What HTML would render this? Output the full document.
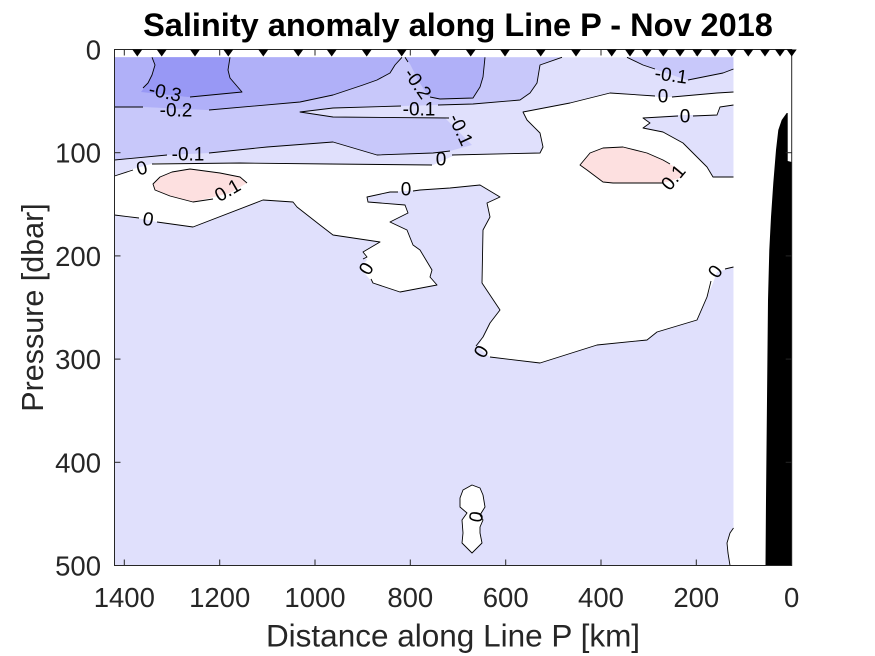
<!DOCTYPE html>
<html><head><meta charset="utf-8"><style>
html,body{margin:0;padding:0;background:#fff;}
svg{display:block;}
text{font-family:"Liberation Sans",Arial,sans-serif;}
</style></head><body>
<svg width="875" height="656" viewBox="0 0 875 656" xmlns="http://www.w3.org/2000/svg">
<rect width="875" height="656" fill="#fff"/>
<!-- data fills -->
<rect x="114.5" y="57.3" width="619" height="508.2" fill="#e0e0fc"/>
<path d="M114.5,57.3 L562,57.3 L540,65 L537,83 L530,93 L520,100 L473,104 L437,105 L403,106 L333,108 L300,112 L333,117 L445,118 L472,145 L450,151 L433,153 L377,155 L333,142 L267,147 L210,153 L167,155 L114.5,160 Z" fill="#c8c8fa"/>
<path d="M114.5,57.3 L402,57.3 L395,65 L390,73 L377,80 L363,85 L333,95 L300,102 L207,110 L143,107 L114.5,107 Z" fill="#b0b0f8"/>
<path d="M405,57.3 L485,57.3 L483,77 L480,87 L473,98 L440,99 L428,96 L418,80 L410,64 Z" fill="#b0b0f8"/>
<path d="M152,57.3 L230,57.3 L228,70 L230,78 L242,92 L188,97 L141,92 L148,83 L152,75 L155,65 Z" fill="#9898f5"/>
<path d="M627,57.3 L643,65 L663,72 L687,80 L723,73 L733.5,69 L733.5,57.3 Z" fill="#c8c8fa"/>
<path d="M114.5,176 L133,169 L155,163 L240,163 L330,164 L433,165 L455,155 L540,153 L543,147 L540,133 L527,120 L523,112 L570,103 L610,93 L660,97 L677,97 L717,93 L733.5,92 L733.5,105 L720,107 L717,115 L677,115 L643,118 L650,123 L643,128 L663,132 L683,143 L697,157 L707,167 L713,177 L733.5,177 L733.5,267 L717,272 L713,283 L707,297 L697,320 L657,332 L647,340 L597,345 L540,363 L490,357 L478,347 L483,337 L490,323 L500,310 L482,283 L483,230 L490,217 L487,203 L500,197 L480,185 L450,188 L420,190 L390,192 L367,197 L368,202 L405,205 L408,213 L390,222 L407,230 L413,245 L420,250 L432,270 L430,277 L437,285 L400,292 L373,283 L360,268 L367,260 L363,252 L380,242 L333,235 L320,225 L297,207 L293,202 L263,200 L193,227 L157,222 L137,218 L114.5,215 Z" fill="#fff"/>
<path d="M153,184 L160,177 L172,172 L190,169 L220,173 L240,177 L247,183 L230,193 L210,198 L193,202 L170,196 L155,190 Z" fill="#fde0e0"/>
<path d="M580,165 L590,153 L603,148 L623,147 L647,153 L663,160 L680,170 L683,177 L667,182 L653,183 L613,183 L603,182 L587,170 Z" fill="#fde0e0"/>
<path d="M472,485 L480,488 L483,495 L485,507 L480,515 L483,520 L480,527 L480,533 L482,543 L472,553 L462,543 L463,533 L462,520 L467,513 L460,507 L460,498 L463,490 Z" fill="#fff"/>
<path d="M733.5,528 L730,533 L727,543 L728,553 L730,565.5 L733.5,565.5 Z" fill="#fff"/>
<!-- contour lines -->
<g fill="none" stroke="#000" stroke-width="0.9" stroke-linejoin="round">
<polyline points="152,57.3 155,65 152,75 148,83 143,88"/>
<polyline points="230,57.3 228,70 230,78 242,92 190,97"/>
<polyline points="114.5,107 143,107"/>
<polyline points="209,110 300,102 333,95 363,85 377,80 390,73 395,65 402,57.3"/>
<polyline points="405,57.3 408,62"/>
<polyline points="430,97 440,99 473,98 480,87 483,77 485,57.3"/>
<polyline points="114.5,160 167,155"/>
<polyline points="209,153 267,147 333,142 377,155 433,153 450,151"/>
<polyline points="449,118 333,117 300,112 333,108 401,106"/>
<polyline points="438,105 473,104 520,100 530,93 537,83 540,65 562,57.3"/>
<polyline points="627,57.3 643,65 655,69"/>
<polyline points="688,80 723,73 733.5,69"/>
<polyline points="114.5,176 133,170"/>
<polyline points="152,164 240,163 330,164 432,165"/>
<polyline points="452,155 540,153 543,147 540,133 527,120 523,112 570,103 610,93 655,96"/>
<polyline points="672,97 717,93 733.5,92"/>
<polyline points="733.5,105 720,107 717,115 693,116"/>
<polyline points="678,116 643,118 650,123 643,128 663,132 683,143 697,157 707,167 713,177 733.5,177"/>
<polyline points="733.5,267 725,269"/>
<polyline points="711,281 707,297 697,320 657,332 647,340 597,345 540,363 490,357"/>
<polyline points="476,346 483,337 490,323 500,310 482,283 483,230 490,217 487,203 500,197 480,185 450,188 420,190 413,191"/>
<polyline points="398,192 390,192 367,197 368,202 405,205 408,213 390,222 407,230 413,245 420,250 432,270 430,277 437,285 400,292 373,283 371,279"/>
<polyline points="363,259 367,257 363,252 380,242 333,235 320,225 297,207 293,202 263,200 193,227 157,222"/>
<polyline points="139,218 114.5,215"/>
<polyline points="213,199 193,202 170,196 155,190 153,184 160,177 172,172 190,169 220,173 240,177 247,183"/>
<polyline points="663,183 653,183 613,183 603,182 587,170 580,165 590,153 603,148 623,147 647,153 663,160 670,164"/>
<path d="M472,485 L480,488 L483,495 L485,507 L480,515 L483,520 L480,527 L480,533 L482,543 L472,553 L462,543 L463,533 L462,520 L467,513 L460,507 L460,498 L463,490 Z"/>
<polyline points="733.5,528 730,533 727,543 728,553 730,565.5"/>
</g>
<!-- contour labels -->
<g font-size="19" fill="#000" text-anchor="middle" dominant-baseline="central">
<text transform="translate(165,93) rotate(12)">-0.3</text>
<text transform="translate(176,111)">-0.2</text>
<text transform="translate(188,155)">-0.1</text>
<text transform="translate(142,169) rotate(-15)">0</text>
<text transform="translate(228,191) rotate(-30)">0.1</text>
<text transform="translate(148,220) rotate(10)">0</text>
<text transform="translate(367,269) rotate(-60)">0</text>
<text transform="translate(417,84) rotate(55)">-0.2</text>
<text transform="translate(419,110)">-0.1</text>
<text transform="translate(460,130) rotate(65)">-0.1</text>
<text transform="translate(441,160)">0</text>
<text transform="translate(406,190)">0</text>
<text transform="translate(671,76) rotate(8)">-0.1</text>
<text transform="translate(663,97)">0</text>
<text transform="translate(685,117)">0</text>
<text transform="translate(674,178) rotate(-50)">0.1</text>
<text transform="translate(716,272) rotate(-55)">0</text>
<text transform="translate(482,352) rotate(-60)">0</text>
<text transform="translate(477,517) rotate(-80)">0</text>
</g>
<!-- bathymetry -->
<path d="M786.7,113 L781.7,120 L778.3,130 L776,150 L773.3,183 L771,217 L769.3,250 L768,300 L767,400 L766,500 L765.5,565.5 L791.7,565.5 L791.7,162 L787.7,161 L787.7,113 Z" fill="#000"/>
<!-- axes box -->
<rect x="114.5" y="49.5" width="677.2" height="516" fill="none" stroke="#262626" stroke-width="1"/>
<g stroke="#262626" stroke-width="1">
<line x1="124.3" y1="565.5" x2="124.3" y2="559.5"/><line x1="219.7" y1="565.5" x2="219.7" y2="559.5"/>
<line x1="315" y1="565.5" x2="315" y2="559.5"/><line x1="410.3" y1="565.5" x2="410.3" y2="559.5"/>
<line x1="505.7" y1="565.5" x2="505.7" y2="559.5"/><line x1="601" y1="565.5" x2="601" y2="559.5"/>
<line x1="696.3" y1="565.5" x2="696.3" y2="559.5"/>
<line x1="124.3" y1="49.5" x2="124.3" y2="55.5"/><line x1="219.7" y1="49.5" x2="219.7" y2="55.5"/>
<line x1="315" y1="49.5" x2="315" y2="55.5"/><line x1="410.3" y1="49.5" x2="410.3" y2="55.5"/>
<line x1="505.7" y1="49.5" x2="505.7" y2="55.5"/><line x1="601" y1="49.5" x2="601" y2="55.5"/>
<line x1="696.3" y1="49.5" x2="696.3" y2="55.5"/>
<line x1="114.5" y1="152.7" x2="120.5" y2="152.7"/><line x1="114.5" y1="255.9" x2="120.5" y2="255.9"/>
<line x1="114.5" y1="359.1" x2="120.5" y2="359.1"/><line x1="114.5" y1="462.3" x2="120.5" y2="462.3"/>
<line x1="791.7" y1="152.7" x2="785.7" y2="152.7"/><line x1="791.7" y1="255.9" x2="785.7" y2="255.9"/>
<line x1="791.7" y1="359.1" x2="785.7" y2="359.1"/><line x1="791.7" y1="462.3" x2="785.7" y2="462.3"/>
</g>
<!-- station markers -->
<g fill="#000">
<path d="M132.3,49.5 h10 l-5,7 z"/><path d="M156.7,49.5 h10 l-5,7 z"/><path d="M190,49.5 h10 l-5,7 z"/>
<path d="M223.3,49.5 h10 l-5,7 z"/><path d="M258.3,49.5 h10 l-5,7 z"/><path d="M293.3,49.5 h10 l-5,7 z"/>
<path d="M326.7,49.5 h10 l-5,7 z"/><path d="M361.7,49.5 h10 l-5,7 z"/><path d="M396.7,49.5 h10 l-5,7 z"/>
<path d="M430,49.5 h10 l-5,7 z"/><path d="M465.7,49.5 h10 l-5,7 z"/><path d="M500,49.5 h10 l-5,7 z"/>
<path d="M535.7,49.5 h10 l-5,7 z"/><path d="M571,49.5 h10 l-5,7 z"/><path d="M606.7,49.5 h10 l-5,7 z"/>
<path d="M625,49.5 h10 l-5,7 z"/><path d="M641.7,49.5 h10 l-5,7 z"/><path d="M658.3,49.5 h10 l-5,7 z"/>
<path d="M675,49.5 h10 l-5,7 z"/><path d="M692.3,49.5 h10 l-5,7 z"/><path d="M710,49.5 h10 l-5,7 z"/>
<path d="M726.7,49.5 h10 l-5,7 z"/><path d="M743.3,49.5 h10 l-5,7 z"/><path d="M760,49.5 h10 l-5,7 z"/>
<path d="M775,49.5 h10 l-5,7 z"/><path d="M786.7,49.5 h10 l-5,7 z"/>
</g>
<!-- tick labels -->
<g font-size="27.5" fill="#262626" text-anchor="middle">
<text x="124.3" y="607">1400</text><text x="219.7" y="607">1200</text><text x="315" y="607">1000</text>
<text x="410.3" y="607">800</text><text x="505.7" y="607">600</text><text x="601" y="607">400</text>
<text x="696.3" y="607">200</text><text x="791.7" y="607">0</text>
</g>
<g font-size="27.5" fill="#262626" text-anchor="end">
<text x="101" y="59.5">0</text><text x="101" y="162.7">100</text><text x="101" y="265.9">200</text>
<text x="101" y="369.1">300</text><text x="101" y="472.3">400</text><text x="101" y="575.5">500</text>
</g>
<text x="453" y="646.5" font-size="31.5" fill="#262626" text-anchor="middle">Distance along Line P [km]</text>
<text transform="translate(43,307.5) rotate(-90)" font-size="30.5" fill="#262626" text-anchor="middle">Pressure [dbar]</text>
<text x="458" y="36" font-size="32.5" font-weight="bold" fill="#000" text-anchor="middle">Salinity anomaly along Line P - Nov 2018</text>
</svg>
</body></html>
